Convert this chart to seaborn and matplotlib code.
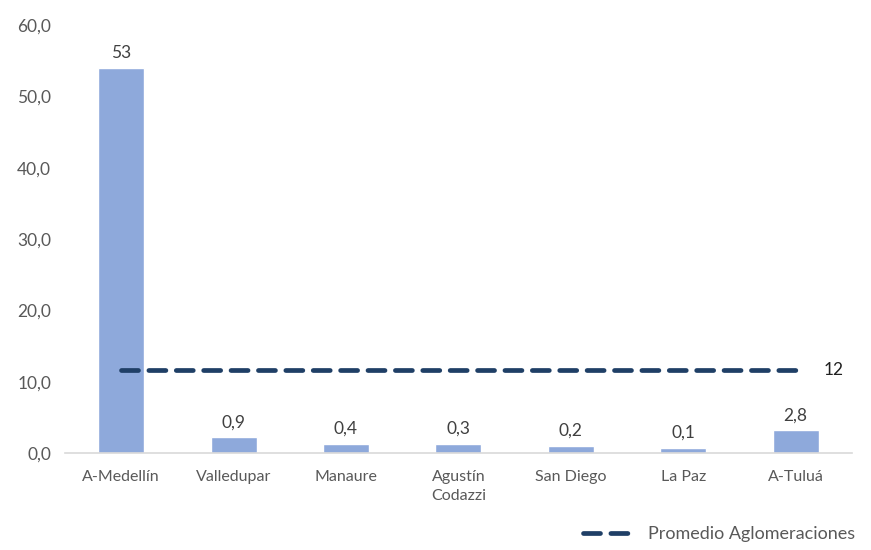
import matplotlib
matplotlib.use("Agg")
import matplotlib.pyplot as plt
import seaborn as sns
import pandas as pd

categories = ["A-Medellín", "Valledupar", "Manaure", "Agustín\nCodazzi", "San Diego", "La Paz", "A-Tuluá"]
bar_heights = [54.0, 2.2, 1.3, 1.3, 1.0, 0.7, 3.2]
bar_labels = ["53", "0,9", "0,4", "0,3", "0,2", "0,1", "2,8"]
promedio = [11.7] * 7
promedio_label = "12"
y_ticks = [0, 10, 20, 30, 40, 50, 60]
y_ticklabels = ["0,0", "10,0", "20,0", "30,0", "40,0", "50,0", "60,0"]

sns.set_theme(style="white")
plt.rcParams["font.family"] = ["Lato", "DejaVu Sans"]

df = pd.DataFrame({"cat": categories, "val": bar_heights, "avg": promedio})

fig = plt.figure(figsize=(8.71, 5.5), dpi=100)
ax = fig.add_axes([0.0746, 0.1764, 0.9034, 0.7781])

sns.barplot(data=df, x="cat", y="val", color="#8EA9DB", saturation=1, width=0.41, ax=ax)
ax.plot(range(len(categories)), df["avg"], color="#1F3F66", lw=3.4,
        linestyle=(0, (3.6, 2.2)), dash_capstyle="round", label="Promedio Aglomeraciones", zorder=3)

for i, (h, lab) in enumerate(zip(bar_heights, bar_labels)):
    ax.annotate(lab, (i, h), xytext=(0, 5), textcoords="offset points",
                ha="center", va="bottom", fontsize=12.5, color="#404040")
ax.annotate(promedio_label, (len(categories) - 1, promedio[-1]), xytext=(20, 0),
            textcoords="offset points", ha="left", va="center", fontsize=12.5, color="#202020")

ax.set_ylim(0, 60)
ax.set_xlim(-0.5, len(categories) - 0.5)
ax.set_yticks(y_ticks)
ax.set_yticklabels(y_ticklabels, fontsize=12.5, color="#595959")
ax.tick_params(axis="x", labelsize=11.5, labelcolor="#595959", length=0, pad=12)
ax.tick_params(axis="y", length=0, pad=10)
for t in ax.get_xticklabels():
    t.set_linespacing(1.5)
ax.set_xlabel("")
ax.set_ylabel("")
for s in ["top", "right", "left"]:
    ax.spines[s].set_visible(False)
ax.spines["bottom"].set_color("#D9D9D9")
ax.spines["bottom"].set_linewidth(1.2)
ax.grid(False)

leg = fig.legend(loc="lower right", bbox_to_anchor=(1.0, -0.015), frameon=False,
                 fontsize=13, handlelength=3.0, handletextpad=0.6)
for t in leg.get_texts():
    t.set_color("#595959")

fig.savefig("out.png", dpi=100)
